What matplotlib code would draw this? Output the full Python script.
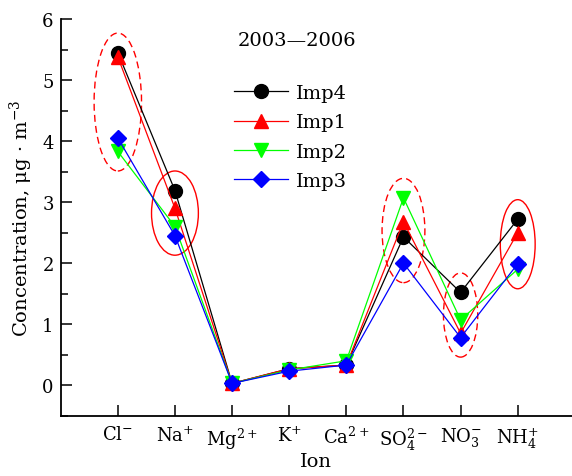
import matplotlib
matplotlib.use("Agg")
import numpy as np
import matplotlib.pyplot as plt
from matplotlib.patches import Ellipse
from matplotlib.ticker import MultipleLocator

# Ion categories (x axis)
ions = [r"$\mathrm{Cl^{-}}$", r"$\mathrm{Na^{+}}$", r"$\mathrm{Mg^{2+}}$", r"$\mathrm{K^{+}}$",
        r"$\mathrm{Ca^{2+}}$", r"$\mathrm{SO_4^{2-}}$", r"$\mathrm{NO_3^{-}}$", r"$\mathrm{NH_4^{+}}$"]

# concentrations, ug m-3
imp4 = [5.45, 3.19, 0.03, 0.27, 0.33, 2.43, 1.52, 2.72]
imp1 = [5.38, 2.90, 0.03, 0.27, 0.33, 2.68, 0.85, 2.50]
imp2 = [3.83, 2.60, 0.03, 0.25, 0.40, 3.07, 1.07, 1.90]
imp3 = [4.05, 2.45, 0.03, 0.23, 0.33, 2.00, 0.78, 1.99]

series_names = ["Imp4", "Imp1", "Imp2", "Imp3"]

# ions circled in the figure: (index, dashed?)
circled = [(0, True), (1, False), (5, True), (6, True), (7, False)]

plt.rcParams["font.family"] = ["DejaVu Serif"]
plt.rcParams["mathtext.fontset"] = "dejavuserif"

fig = plt.figure(figsize=(5.72, 4.77), dpi=100)
ax = fig.add_axes([0.1061, 0.1264, 0.8939, 0.8316])

x = np.arange(1, len(ions) + 1)
styles = [
    dict(color="black", marker="o", ms=10),
    dict(color="red", marker="^", ms=10),
    dict(color="#00ff00", marker="v", ms=10),
    dict(color="blue", marker="D", ms=8.5),
]
for vals, name, st in zip([imp4, imp1, imp2, imp3], series_names, styles):
    ax.plot(x, vals, color=st["color"], marker=st["marker"], ms=st["ms"],
            lw=0.9, mfc=st["color"], mec=st["color"], label=name, zorder=3)

# highlight ellipses around groups of points
widths = {0: 0.83, 1: 0.82, 5: 0.75, 6: 0.6, 7: 0.61}
data = np.array([imp4, imp1, imp2, imp3])
for idx, dashed in circled:
    lo, hi = data[:, idx].min(), data[:, idx].max()
    e = Ellipse((x[idx], (lo + hi) / 2), widths[idx], hi - lo + 0.64,
                fill=False, ec="red", lw=1.0, ls=(0, (5, 3)) if dashed else "-", zorder=2)
    ax.add_patch(e)

ax.set_xlim(0, 8.95)
ax.set_ylim(-0.5, 6)
ax.set_xticks(x)
ax.set_xticklabels(ions)
ax.yaxis.set_major_locator(MultipleLocator(1))
ax.yaxis.set_minor_locator(MultipleLocator(0.5))
ax.tick_params(direction="in", length=8, width=1.1, labelsize=13, pad=7)
ax.tick_params(which="minor", direction="in", length=5, width=1.1)
ax.tick_params(axis="y", pad=5)
for s in ["top", "right"]:
    ax.spines[s].set_visible(False)
for s in ["left", "bottom"]:
    ax.spines[s].set_linewidth(1.3)

ax.set_xlabel("Ion", fontsize=14, labelpad=0)
ax.set_ylabel("Concentration, \u03bcg \u00b7 m$^{-3}$", fontsize=14, labelpad=5)

ax.text(0.462, 0.947, "2003\u20142006", transform=ax.transAxes, ha="center", va="center", fontsize=14)
ax.legend(loc="upper left", bbox_to_anchor=(0.312, 0.87), frameon=False, fontsize=14,
          handlelength=2.8, handletextpad=0.4, labelspacing=0.58, borderpad=0.2)

fig.savefig("out.png", dpi=100)
